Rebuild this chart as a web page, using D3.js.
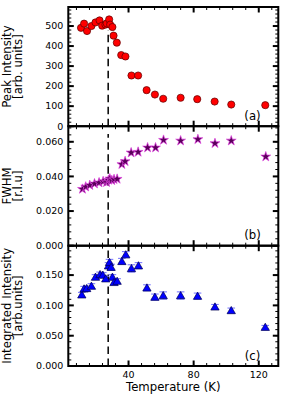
<!DOCTYPE html>
<html><head><meta charset="utf-8">
<script src="https://cdn.jsdelivr.net/npm/d3@7"></script>
<style>
html,body{margin:0;padding:0;background:#fff;}
svg{display:block;font-family:"DejaVu Sans",sans-serif;}
</style></head>
<body><svg id="c" width="296" height="395"></svg>
<script>
// ---- data ----
const peakT = [10.8,12.7,14.5,17.2,19.7,22.2,23.8,25.8,26.6,28.1,28.7,30.1,30.8,32.8,35.5,38.1,41.8,45.9,51.1,56.2,61.3,72,82.2,92.9,103.1,124];
const peakI = [491,512,475,500,518,528,502,507,513,533,507,495,452,417,355,348,253,253,180,158,137,142,135,123,108,105];

const fwhmT = [11.7,13.7,16.2,19.1,21.9,24.4,26.5,27.7,28.5,29.7,31.1,33,35.9,37.9,41.6,45.9,51.7,56.6,61.5,72,82.6,93.1,103.1,124.3];
const fwhmV = [0.0327,0.0340,0.0349,0.0358,0.0364,0.0371,0.0366,0.0379,0.0387,0.0377,0.0383,0.0385,0.0470,0.0487,0.0537,0.0541,0.0566,0.0566,0.0610,0.0606,0.0614,0.0591,0.0606,0.0514];

const intT = [11.3,12.7,14.3,17.2,19.7,22.5,24.2,26.0,27.7,28.3,29.3,30.1,31.1,33.0,35.9,38.3,41.8,46.1,51.3,56.2,61.3,72,82.4,93.1,103.1,124];
const intV = [0.1175,0.1274,0.1280,0.1318,0.1467,0.1510,0.1500,0.1440,0.1655,0.1710,0.1630,0.1467,0.1380,0.1400,0.1726,0.1837,0.1610,0.1655,0.1290,0.1137,0.1163,0.1163,0.1153,0.0976,0.0916,0.0640];
const intErr = [0.004,0.004,0.004,0.004,0.004,0.004,0.004,0.004,0.005,0.005,0.005,0.004,0.004,0.004,0.005,0.005,0.006,0.005,0.005,0.005,0.006,0.006,0.005,0.004,0.004,0.003];

const Tc = 27.5;
const xTicks = [40,80,120];
const ticksA = [0,100,200,300,400,500];
const ticksB = [0,0.02,0.04,0.06];
const ticksC = [0,0.05,0.1,0.15];

// ---- layout ----
const svg = d3.select("#c");
const L = 68.3, R = 278.3;
const x = d3.scaleLinear().domain([3,132]).range([L,R]);

const panels = [
  {top:7, bot:126.2, dom:[0,595], ticks:ticksA, minor:20, fmt:d3.format("d"), lab:["Peak Intensity","[arb. units]"], tag:"(a)", dashTop:480},
  {top:126.2, bot:245.7, dom:[0,0.069], ticks:ticksB, minor:0.004, fmt:d3.format(".3f"), lab:["FWHM","[r.l.u]"], tag:"(b)", dashTop:0.0645},
  {top:245.7, bot:366, dom:[0,0.1985], ticks:ticksC, minor:0.01, fmt:d3.format(".3f"), lab:["Integrated Intensity","[arb.units]"], tag:"(c)", dashTop:0.1985}
];
panels.forEach(p => { p.y = d3.scaleLinear().domain(p.dom).range([p.bot,p.top]); });

const gAx = svg.append("g");
panels.forEach((p,i) => {
  const g = gAx.append("g");
  const yMinor = d3.range(0, p.dom[1]+1e-9, p.minor);
  yMinor.forEach(v => {
    const yy = p.y(v);
    g.append("line").attr("x1",L).attr("x2",L+3).attr("y1",yy).attr("y2",yy).attr("stroke","#000").attr("stroke-width",1);
    g.append("line").attr("x1",R).attr("x2",R-3).attr("y1",yy).attr("y2",yy).attr("stroke","#000").attr("stroke-width",1);
  });
  p.ticks.forEach(v => {
    const yy = p.y(v);
    g.append("line").attr("x1",L).attr("x2",L+5.5).attr("y1",yy).attr("y2",yy).attr("stroke","#000").attr("stroke-width",2);
    g.append("line").attr("x1",R).attr("x2",R-5.5).attr("y1",yy).attr("y2",yy).attr("stroke","#000").attr("stroke-width",2);
    g.append("text").attr("x",L-5).attr("y",yy).attr("dy","0.35em").attr("text-anchor","end")
      .attr("font-size",9.5).text(p.fmt(v));
  });
  const xMinor = d3.range(8, 132, 8);
  xMinor.forEach(v => {
    const xx = x(v);
    const major = xTicks.includes(v);
    const len = major ? 5.5 : 3, sw = major ? 2 : 1;
    g.append("line").attr("x1",xx).attr("x2",xx).attr("y1",p.bot).attr("y2",p.bot-len).attr("stroke","#000").attr("stroke-width",sw);
    g.append("line").attr("x1",xx).attr("x2",xx).attr("y1",p.top).attr("y2",p.top+len).attr("stroke","#000").attr("stroke-width",sw);
  });
  const cy = (p.top+p.bot)/2;
  g.append("text").attr("transform",`translate(7,${cy}) rotate(-90)`).attr("text-anchor","middle")
    .attr("font-size",11.7).attr("dy","0.35em").text(p.lab[0]);
  g.append("text").attr("transform",`translate(18,${cy}) rotate(-90)`).attr("text-anchor","middle")
    .attr("font-size",11.7).attr("dy","0.35em").text(p.lab[1]);
  g.append("text").attr("x",252.5).attr("y",p.bot-10.5).attr("dy","0.35em").attr("text-anchor","middle")
    .attr("font-size",11.7).text(p.tag);
  g.append("line").attr("x1",x(Tc)).attr("x2",x(Tc)).attr("y1",p.bot).attr("y2",p.y(p.dashTop))
    .attr("stroke","#000").attr("stroke-width",1.5).attr("stroke-dasharray","7.5,4.5");
});

xTicks.forEach(v => {
  svg.append("text").attr("x",x(v)).attr("y",374.5).attr("dy","0.35em").attr("text-anchor","middle")
    .attr("font-size",9.5).text(v);
});
svg.append("text").attr("x",(L+R)/2).attr("y",387).attr("dy","0.35em").attr("text-anchor","middle")
  .attr("font-size",11.7).text("Temperature (K)");

// ---- data marks ----
const pa = panels[0], pb = panels[1], pc = panels[2];
svg.append("g").selectAll("circle").data(peakT).join("circle")
  .attr("cx",(d)=>x(d)).attr("cy",(d,i)=>pa.y(peakI[i])).attr("r",3.6)
  .attr("fill","#ff0000").attr("stroke","#5a0000").attr("stroke-width",0.7);

const star = d3.symbol().type(d3.symbolStar).size(30);
svg.append("g").selectAll("path").data(fwhmT).join("path")
  .attr("d",star).attr("transform",(d,i)=>`translate(${x(d)},${pb.y(fwhmV[i])})`)
  .attr("fill","#5a005a").attr("stroke","#e040e0").attr("stroke-width",0.7);

const gE = svg.append("g");
intT.forEach((t,i) => {
  const xx = x(t), y1 = pc.y(intV[i]-intErr[i]), y2 = pc.y(intV[i]+intErr[i]);
  gE.append("line").attr("x1",xx).attr("x2",xx).attr("y1",y1).attr("y2",y2).attr("stroke","#6f6fff").attr("stroke-width",1);
  [y1,y2].forEach(yy => gE.append("line").attr("x1",xx-3.8).attr("x2",xx+3.8).attr("y1",yy).attr("y2",yy).attr("stroke","#6f6fff").attr("stroke-width",1));
});
const tri = d3.symbol().type(d3.symbolTriangle).size(30);
svg.append("g").selectAll("path").data(intT).join("path")
  .attr("d",tri).attr("transform",(d,i)=>`translate(${x(d)},${pc.y(intV[i])+0.8})`)
  .attr("fill","#0000ff").attr("stroke","#000050").attr("stroke-width",0.7);

panels.forEach(p => {
  svg.append("rect").attr("x",L).attr("y",p.top).attr("width",R-L).attr("height",p.bot-p.top)
    .attr("fill","none").attr("stroke","#000").attr("stroke-width",2);
});
</script></body></html>
